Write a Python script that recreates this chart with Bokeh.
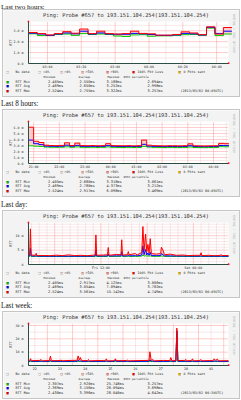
import math
from bokeh.plotting import figure
from bokeh.layouts import column
from bokeh.models import Label, FixedTicker, Range1d, BoxAnnotation
from bokeh.embed import file_html
from bokeh.resources import INLINE

# ---------------- data ----------------
headings = ["Last two hours:", "Last 8 hours:", "Last day:", "Last week:"]
chart_title = "Ping: Probe #657 to 193.151.104.254(193.151.104.254)"
watermark = "RRDTOOL / TOBI OETIKER"
legend_labels = ["No data", "=0%", ">0%", ">50%", ">90%", "100% Pkt Loss", "0 Pkts sent"]
legend_colors = ["#ffffff", "#ffffff", "#ffe2e2", "#ffb8b8", "#ff8a8a", "#ff0000", "#f0b000"]
stat_headers = ["Minimum", "Average", "Maximum", "95th percentile"]
series_names = ["RTT Min", "RTT Avg", "RTT Max"]
series_colors = ["#00cc00", "#0000ff", "#ff0000"]

# --- Last two hours (x: minutes after 00:00, 5-minute steps) ---
t_2h = [169, 174, 179, 184, 189, 194, 199, 204, 209, 214, 219, 224,
        229, 234, 239, 244, 249, 254, 259, 264, 269, 274, 279, 284]
min_2h = [2.72, 2.56, 2.56, 2.66, 2.70, 2.58, 2.74, 2.66, 2.70, 2.66, 2.52, 2.48,
          2.62, 2.64, 2.50, 2.54, 2.54, 2.58, 2.64, 2.66, 2.58, 3.24, 2.56, 2.70]
avg_2h = [2.78, 2.70, 2.58, 2.70, 2.80, 2.72, 2.96, 2.70, 2.80, 2.70, 2.68, 2.68,
          2.76, 2.72, 2.66, 2.58, 2.58, 2.62, 2.76, 2.72, 2.62, 3.32, 2.76, 2.96]
max_2h = [2.84, 2.74, 2.62, 2.74, 2.92, 2.78, 3.16, 2.74, 2.96, 2.74, 2.70, 2.74,
          2.96, 2.76, 2.72, 2.60, 2.60, 2.66, 2.90, 2.80, 2.64, 3.36, 2.70, 3.30]
step_2h = 5
xt_2h = [180, 200, 220, 240, 260, 280]
xl_2h = ["03:00", "03:20", "03:40", "04:00", "04:20", "04:40"]
yt_2h = [0, 1, 2, 3]
yl_2h = ["0.0", "1.0 m", "2.0 m", "3.0 m"]
stats_2h = [["2.405ms", "2.550ms", "3.188ms", "2.694ms"],
            ["2.469ms", "2.650ms", "3.252ms", "2.998ms"],
            ["2.524ms", "2.755ms", "3.322ms", "3.257ms"]]
stamp_2h = "(2013/03/02 04:45UTC)"

# --- Last 8 hours (x: minutes after Friday 00:00, 12-minute steps) ---
t_8h = [1248, 1260, 1272, 1284, 1296, 1308, 1320, 1332, 1344, 1356,
        1368, 1380, 1392, 1404, 1416, 1428, 1440, 1452, 1464, 1476,
        1488, 1500, 1512, 1524, 1536, 1548, 1560, 1572, 1584, 1596,
        1608, 1620, 1632, 1644, 1656, 1668, 1680, 1692, 1704]
min_8h = [2.95, 2.88, 2.85, 2.74, 2.71, 2.70, 2.72, 2.78, 2.71, 2.77,
          2.70, 2.69, 2.71, 2.68, 2.70, 2.76, 2.70, 2.68, 2.67, 2.69,
          2.67, 2.68, 2.85, 2.73, 2.69, 2.68, 2.66, 2.68, 2.67, 2.66,
          2.68, 2.75, 2.67, 2.66, 2.65, 2.67, 2.68, 2.80, 2.78]
avg_8h = [3.90, 3.30, 3.15, 2.90, 2.87, 2.85, 2.88, 3.05, 2.87, 3.02,
          2.86, 2.85, 2.86, 2.84, 2.85, 2.98, 2.86, 2.84, 2.83, 2.85,
          2.83, 2.84, 3.20, 2.90, 2.85, 2.84, 2.82, 2.84, 2.83, 2.82,
          2.84, 2.96, 2.83, 2.82, 2.81, 2.83, 2.84, 3.00, 2.98]
max_8h = [6.05, 3.70, 3.50, 3.05, 3.00, 2.97, 3.02, 3.45, 3.00, 3.40,
          2.98, 2.96, 2.99, 2.95, 2.97, 3.30, 2.98, 2.96, 2.95, 2.97,
          2.94, 2.96, 3.90, 3.05, 2.97, 2.95, 2.93, 2.96, 2.95, 2.94,
          2.96, 3.28, 2.95, 2.93, 2.92, 2.94, 2.95, 3.35, 3.30]
step_8h = 12
xt_8h = [1260, 1320, 1380, 1440, 1500, 1560, 1620, 1680]
xl_8h = ["21:00", "22:00", "23:00", "00:00", "01:00", "02:00", "03:00", "04:00"]
yt_8h = [0, 1, 2, 3, 4, 5, 6]
yl_8h = ["0.0", "1.0 m", "2.0 m", "3.0 m", "4.0 m", "5.0 m", "6.0 m"]
stats_8h = [["2.405ms", "2.680ms", "3.318ms", "3.061ms"],
            ["2.469ms", "2.780ms", "4.373ms", "3.212ms"],
            ["2.524ms", "2.917ms", "6.098ms", "3.469ms"]]
stamp_8h = "(2013/03/02 04:45UTC)"

# --- Last day (x: hours after Friday 00:00) ---
t_day = [2.60, 2.75, 2.85, 2.95, 3.50, 3.60, 3.70, 4.60, 5.40, 6.20,
         7.00, 7.80, 8.60, 9.40, 10.20, 11.00, 11.25, 11.35, 11.45, 12.30,
         12.85, 12.95, 13.05, 14.00, 14.60, 14.70, 14.80, 15.45, 15.55, 15.65,
         16.50, 16.70, 17.30, 17.45, 17.60, 17.80, 17.95, 18.10, 18.25, 18.40,
         18.55, 19.20, 19.75, 19.85, 20.05, 20.25, 21.00, 21.80, 22.60, 23.40,
         24.20, 24.90, 25.00, 25.10, 26.00, 26.80, 27.50, 27.60, 27.70, 28.56]
min_day = [2.80, 2.82, 3.00, 2.82, 2.80, 2.82, 2.80, 2.78, 2.76, 2.78,
           2.77, 2.75, 2.78, 2.76, 2.77, 2.78, 2.80, 3.00, 2.80, 2.79,
           2.80, 3.10, 2.80, 2.82, 2.84, 3.00, 2.82, 2.83, 2.85, 2.82,
           2.84, 2.82, 2.90, 3.30, 2.90, 3.10, 2.90, 3.00, 2.88, 3.00,
           2.86, 2.84, 2.86, 2.95, 2.90, 2.84, 2.82, 2.80, 2.79, 2.78,
           2.77, 2.78, 2.80, 2.78, 2.77, 2.76, 2.77, 2.78, 2.76, 2.77]
avg_day = [2.95, 2.96, 5.60, 2.96, 2.94, 3.05, 2.92, 2.90, 2.88, 2.90,
           2.89, 2.88, 2.90, 2.89, 2.90, 2.92, 2.95, 5.00, 2.95, 2.95,
           2.96, 3.70, 2.96, 3.00, 3.00, 4.50, 2.98, 3.00, 3.20, 3.00,
           3.05, 3.00, 3.30, 6.40, 3.40, 5.20, 3.30, 4.00, 3.20, 4.20,
           3.10, 3.05, 3.10, 3.80, 3.40, 3.00, 2.98, 2.95, 2.93, 2.92,
           2.90, 2.92, 3.00, 2.90, 2.89, 2.88, 2.90, 2.92, 2.88, 2.89]
max_day = [3.20, 3.30, 12.40, 3.30, 3.20, 3.90, 3.10, 3.15, 3.05, 3.25,
           3.10, 3.35, 3.10, 3.20, 3.05, 3.25, 3.30, 10.30, 3.20, 3.30,
           3.40, 5.90, 3.20, 3.50, 3.40, 8.60, 3.30, 3.40, 4.50, 3.40,
           3.80, 3.30, 4.20, 13.20, 4.80, 10.60, 4.50, 7.00, 4.00, 9.00,
           3.80, 3.60, 3.80, 6.00, 5.00, 3.40, 3.60, 3.20, 3.30, 3.10,
           3.20, 3.20, 4.10, 3.10, 3.20, 3.05, 3.20, 3.50, 3.10, 3.15]
xt_day = [12, 24]
xl_day = ["Fri 12:00", "Sat 00:00"]
yt_day = [0, 5, 10]
yl_day = ["0", "5 m", "10 m"]
stats_day = [["2.405ms", "2.917ms", "4.125ms", "3.006ms"],
             ["2.469ms", "3.054ms", "7.094ms", "3.782ms"],
             ["2.524ms", "3.561ms", "15.142ms", "4.749ms"]]
stamp_day = "(2013/03/02 04:45UTC)"

# --- Last week (x: days after Feb 21 00:00) ---
t_week = [1.25, 1.30, 1.33, 1.37, 1.70, 1.75, 1.80, 2.08, 2.12, 2.16,
          2.50, 2.54, 2.58, 2.90, 3.18, 3.22, 3.27, 3.31, 3.36, 3.60,
          3.63, 3.67, 4.05, 4.30, 4.34, 4.38, 4.66, 4.70, 4.74, 5.15,
          5.19, 5.23, 5.60, 6.03, 6.07, 6.12, 6.18, 6.24, 6.60, 6.86,
          6.90, 6.94, 7.10, 7.14, 7.18, 7.46, 7.50, 7.54, 7.72, 7.76,
          7.80, 8.05, 8.09, 8.13, 8.45, 8.58, 8.62, 8.68, 8.75, 8.80,
          9.19]
min_week = [2.95, 2.92, 3.00, 2.92, 2.95, 2.98, 2.90, 2.94, 3.00, 2.92,
            2.94, 2.96, 2.90, 2.92, 2.94, 3.05, 2.96, 3.00, 2.92, 2.93,
            2.96, 2.90, 2.92, 2.93, 3.00, 2.90, 2.92, 3.10, 2.92, 2.94,
            2.95, 2.90, 2.92, 2.93, 3.10, 2.95, 3.00, 2.90, 2.92, 2.93,
            3.00, 2.92, 2.94, 25.70, 2.95, 2.94, 2.96, 2.90, 2.92, 3.00,
            2.90, 2.93, 2.95, 2.90, 2.92, 2.93, 3.00, 2.94, 2.98, 2.90,
            2.92]
avg_week = [3.20, 3.15, 3.60, 3.15, 3.20, 3.40, 3.12, 3.18, 3.80, 3.15,
            3.16, 3.30, 3.10, 3.15, 3.20, 3.90, 3.30, 3.50, 3.12, 3.15,
            3.30, 3.10, 3.15, 3.14, 3.50, 3.10, 3.14, 4.20, 3.15, 3.16,
            3.25, 3.10, 3.12, 3.15, 4.30, 3.20, 3.40, 3.10, 3.15, 3.16,
            3.60, 3.15, 3.18, 26.09, 3.20, 3.18, 3.30, 3.10, 3.14, 3.40,
            3.10, 3.15, 3.30, 3.10, 3.12, 3.15, 3.40, 3.20, 3.30, 3.10,
            3.12]
max_week = [3.70, 3.60, 5.10, 3.60, 3.80, 4.50, 3.50, 3.70, 7.00, 3.60,
            3.70, 4.10, 3.50, 3.80, 3.90, 7.20, 4.20, 6.00, 3.60, 3.70,
            4.50, 3.50, 3.70, 3.60, 5.00, 3.50, 3.60, 5.00, 3.60, 3.70,
            4.00, 3.50, 3.70, 3.80, 10.30, 3.80, 4.50, 3.50, 3.80, 3.70,
            6.00, 3.60, 3.70, 28.04, 3.70, 3.80, 4.50, 3.50, 3.70, 5.00,
            3.50, 3.70, 4.50, 3.50, 3.70, 3.60, 5.00, 3.80, 4.80, 3.50,
            3.60]
xt_week = [1.5, 2.5, 3.5, 4.5, 5.5, 6.5, 7.5, 8.5]
xl_week = ["22", "23", "24", "25", "26", "27", "28", "01"]
yt_week = [0, 10, 20, 30]
yl_week = ["0", "10 m", "20 m", "30 m"]
stats_week = [["2.307ms", "2.920ms", "25.748ms", "3.257ms"],
              ["2.369ms", "3.156ms", "26.094ms", "3.698ms"],
              ["2.430ms", "3.396ms", "28.040ms", "4.642ms"]]
stamp_week = "(2013/03/02 04:38UTC)"

# ---------------- style / layout ----------------
MONO = "DejaVu Sans Mono"
SERIF = "Liberation Serif"
TXT = "#262626"
BOX_BG = "#f3f3f3"
BOX_LINE = "#c6c6c6"
MGRID = "#ff9a9a"
GRID = "#f0d0d0"
SMOKE = "#ffbcbc"
AXIS_C = "#2c4d43"
BOX_W, BOX_H = 236, 86
PLOT_L, PLOT_R, PLOT_T, PLOT_B = 25, 11, 11, 33   # margins of the plot area inside the box


def step_xy(t, v, dt):
    xs, ys = [], []
    for i, (a, y) in enumerate(zip(t, v)):
        b = t[i + 1] if i + 1 < len(t) else a + dt
        xs += [a, b]
        ys += [y, y]
    return xs, ys


def text(p, px, dy, s, size, color=TXT, align="left", angle=0.0, font=MONO):
    # px: page x; dy: offset below the box's top border line
    p.add_layout(Label(x=px - 3, y=(BOX_H + 1) - dy, x_units="screen", y_units="screen",
                       text=s, text_font=font, text_font_size=size, text_color=color,
                       text_align=align, text_baseline="middle", angle=angle))


def heading(s, h, from_bottom, size="7.2px"):
    p = figure(width=241, height=h, x_range=Range1d(0, 1), y_range=Range1d(0, 1),
               x_axis_location=None, y_axis_location=None, output_backend="svg",
               toolbar_location=None, min_border=0, outline_line_color=None,
               border_fill_color="white", background_fill_color="white", title=None,
               margin=(0, 0, 0, 0))
    p.grid.visible = False
    p.add_layout(Label(x=0.5, y=from_bottom, x_units="screen", y_units="screen", text=s,
                       text_font=SERIF, text_font_size=size, text_color="#111111",
                       text_baseline="middle"))
    return p


def chart(x0, x1, ytop, xt, xl, xg, xgm, yt, yl, ygm, xs, lo, mid, hi, stats, stamp,
          top_margin=1):
    pw = BOX_W - PLOT_L - PLOT_R
    ph = BOX_H - PLOT_T - PLOT_B
    sx = (x1 - x0) / pw
    sy = ytop / ph
    p = figure(width=BOX_W, height=BOX_H,
               x_range=Range1d(x0 - PLOT_L * sx, x1 + PLOT_R * sx),
               y_range=Range1d(-PLOT_B * sy, ytop + PLOT_T * sy),
               output_backend="svg", toolbar_location=None, title=None, min_border=0,
               border_fill_color=BOX_BG, background_fill_color=BOX_BG,
               outline_line_color=None, margin=(top_margin, 2, 1, 3))
    p.styles = {"outline": "1px solid " + BOX_LINE}
    p.grid.visible = False

    # white canvas of the plot area
    p.add_layout(BoxAnnotation(left=x0, right=x1, bottom=0, top=ytop, fill_color="white",
                               fill_alpha=1.0, line_color=None, level="underlay"))
    # grid lines
    p.segment(x0=xgm, y0=0, x1=xgm, y1=ytop, line_color=GRID, line_dash="1 1", line_width=1)
    p.segment(x0=x0, y0=ygm, x1=x1, y1=ygm, line_color=GRID, line_dash="1 1", line_width=1)
    p.segment(x0=xg, y0=0, x1=xg, y1=ytop, line_color=MGRID, line_dash="1 1", line_width=1)
    p.segment(x0=x0, y0=yt, x1=x1, y1=yt, line_color=MGRID, line_dash="1 1", line_width=1)

    # axes fixed at the plot-area edges
    xa, ya = p.xaxis[0], p.yaxis[0]
    xa.fixed_location = 0
    xa.bounds = (x0, x1)
    ya.fixed_location = x0
    ya.bounds = (0, ytop)
    xa.ticker = FixedTicker(ticks=xt)
    xa.major_label_overrides = dict(zip(xt, xl))
    ya.ticker = FixedTicker(ticks=yt)
    ya.major_label_overrides = dict(zip(yt, yl))
    for ax in (xa, ya):
        ax.axis_line_color = AXIS_C
        ax.major_tick_line_color = None
        ax.minor_tick_line_color = None
        ax.major_tick_out = 0
        ax.major_tick_in = 0
        ax.major_label_text_font = MONO
        ax.major_label_text_font_size = "3.3px"
        ax.major_label_text_color = TXT
    xa.major_label_standoff = 1
    ya.major_label_standoff = 5

    # smoke band and the three RTT lines
    p.varea(x=xs, y1=lo, y2=hi, fill_color=SMOKE, fill_alpha=0.75)
    for ys, c in zip((lo, mid, hi), series_colors):
        p.line(xs, ys, line_color=c, line_width=1)

    # arrows at axis ends
    text(p, 28, 11.3, "\u25b2", "3.4px", color="#ff0000", align="center")
    text(p, 228.6, 53.8, "\u25b6", "3.4px", color="#ff0000", align="center")

    text(p, 125.5, 5.5, chart_title, "5.3px", color="#303030", align="center")
    text(p, 10, 33, "RTT", "3.6px", angle=math.pi / 2, align="center")
    text(p, 233.5, 24, watermark, "3px", color="#b4b4b4", angle=-math.pi / 2, align="center")

    sq_x = [7, 39, 61, 82, 107, 133, 179]
    tx_x = [15, 43, 64, 85, 110, 137, 183]
    for sqx, tx, lab, col in zip(sq_x, tx_x, legend_labels, legend_colors):
        text(p, sqx, 62, "\u25a0", "3.6px", color=col, align="center")
        text(p, sqx, 62, "\u25a1", "3.6px", color="#555555", align="center")
        text(p, tx, 62, lab, "3.3px")

    for hx, h in zip([43, 78, 107, 123], stat_headers):
        text(p, hx, 67, h, "2.8px")
    for row_dy, name, col, vals in zip([72, 76.5, 81], series_names, series_colors, stats):
        text(p, 7, row_dy, "\u25a0", "3.6px", color=col, align="center")
        text(p, 7, row_dy, "\u25a1", "3.6px", color="#222222", align="center")
        text(p, 15, row_dy, name, "3.4px")
        for vx, v in zip([47.5, 79, 106, 147], vals):
            text(p, vx, row_dy, v, "3.6px")
    text(p, 180, 81, stamp, "3.4px")
    return p


# ---- build the four sections ----
xs2, lo2 = step_xy(t_2h, min_2h, step_2h)
_, mid2 = step_xy(t_2h, avg_2h, step_2h)
_, hi2 = step_xy(t_2h, max_2h, step_2h)
c1 = chart(168.8, 287.0, 3.85, xt_2h, xl_2h, xt_2h, [170, 190, 210, 230, 250, 270],
           yt_2h, yl_2h, [0.5, 1.5, 2.5, 3.5], xs2, lo2, mid2, hi2, stats_2h, stamp_2h,
           top_margin=0)

xs8, lo8 = step_xy(t_8h, min_8h, step_8h)
_, mid8 = step_xy(t_8h, avg_8h, step_8h)
_, hi8 = step_xy(t_8h, max_8h, step_8h)
c2 = chart(1248, 1715, 7.0, xt_8h, xl_8h, xt_8h,
           [1290, 1350, 1410, 1470, 1530, 1590, 1650, 1710],
           yt_8h, yl_8h, [0.5, 1.5, 2.5, 3.5, 4.5, 5.5, 6.5], xs8, lo8, mid8, hi8,
           stats_8h, stamp_8h)

c3 = chart(2.6, 28.56, 14.6, xt_day, xl_day, [6, 12, 18, 24],
           [3, 4, 5, 7, 8, 9, 10, 11, 13, 14, 15, 16, 17, 19, 20, 21, 22, 23, 25, 26, 27, 28],
           yt_day, yl_day, [1, 2, 3, 4, 6, 7, 8, 9, 11, 12, 13, 14],
           t_day, min_day, avg_day, max_day, stats_day, stamp_day)

c4 = chart(1.25, 9.19, 31.5, xt_week, xl_week, [2, 3, 4, 5, 6, 7, 8, 9],
           [1.5, 2.5, 3.5, 4.5, 5.5, 6.5, 7.5, 8.5],
           yt_week, yl_week, [5, 15, 25],
           t_week, min_week, avg_week, max_week, stats_week, stamp_week)

h1 = heading(headings[0], 10, 5.2, size="7px")
h2 = heading(headings[1], 12, 5.5)
h3 = heading(headings[2], 13, 5.5)
h4 = heading(headings[3], 13, 5.5)

page = column(h1, c1, h2, c2, h3, c3, h4, c4, spacing=0)
open("out.html", "w").write(file_html(page, INLINE))
